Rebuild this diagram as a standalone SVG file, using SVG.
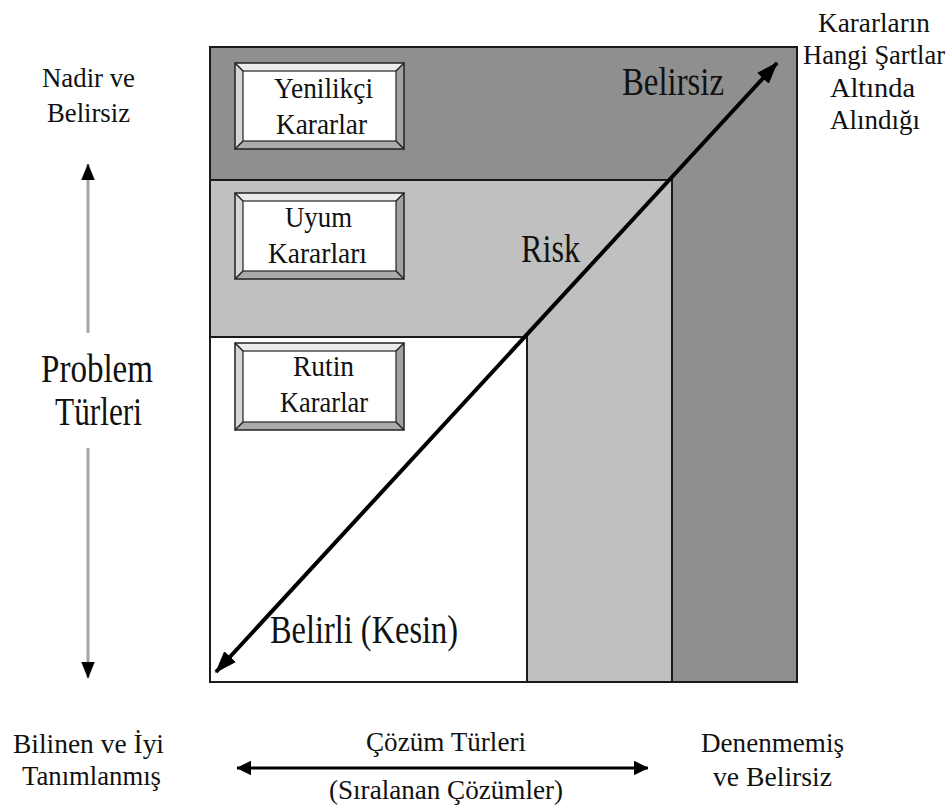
<svg xmlns="http://www.w3.org/2000/svg" width="952" height="812" viewBox="0 0 952 812">
<style>
text{font-family:"Liberation Serif","Times New Roman",serif;fill:#111}
.s{font-size:28px}
.b{font-size:30px}
.L{font-size:40px}
.edge{fill:none;stroke:#1a1a1a;stroke-width:2}
.face-t{fill:#ececec}
.face-l{fill:#d6d6d6}
.face-r{fill:#a2a2a2}
.face-b{fill:#ababab}
.bev{stroke:#222;stroke-width:1.5}
.inner{fill:#fff;stroke:#222;stroke-width:1.2}
</style>
<defs>
<marker id="ah" markerWidth="5.5" markerHeight="4" refX="5.2" refY="2" orient="auto-start-reverse" markerUnits="strokeWidth"><path d="M0,0 L5.5,2 L0,4 Z" fill="#000"/></marker>
<marker id="ahb" markerWidth="5" markerHeight="5" refX="4.8" refY="2.5" orient="auto-start-reverse" markerUnits="strokeWidth"><path d="M0,0 L5,2.5 L0,5 Z" fill="#000"/></marker>
<marker id="ahv" markerWidth="5.5" markerHeight="4.5" refX="5.3" refY="2.25" orient="auto-start-reverse" markerUnits="strokeWidth"><path d="M0,0 L5.5,2.25 L0,4.5 Z" fill="#000"/></marker>
</defs>
<rect width="952" height="812" fill="#fff"/>
<g id="regions">
<g id="region-belirsiz"><rect x="210" y="47" width="587" height="635" fill="#8f8f8f"/></g>
<g id="region-risk"><rect x="210" y="180" width="462" height="502" fill="#c0c0c0"/></g>
<g id="region-belirli"><rect x="210" y="337" width="317" height="345" fill="#fff"/></g>
<path class="edge" d="M210,180 H672 V682 M210,337 H527 V682"/>
<rect class="edge" x="210" y="47" width="587" height="635"/>
</g>
<g id="node-yenilikci">
<rect x="235" y="63" width="169" height="86" fill="#999"/>
<polygon class="face-t" points="235,63 404,63 396,71 243,71"/>
<polygon class="face-l" points="235,63 243,71 243,141 235,149"/>
<polygon class="face-r" points="404,63 404,149 396,141 396,71"/>
<polygon class="face-b" points="235,149 404,149 396,141 243,141"/>
<path class="bev" d="M235,63 L243,71 M404,63 L396,71 M235,149 L243,141 M404,149 L396,141"/>
<rect x="235" y="63" width="169" height="86" fill="none" stroke="#222" stroke-width="1.5"/>
<rect class="inner" x="243" y="71" width="153" height="70"/>
<text class="b" x="274" y="98" textLength="99" lengthAdjust="spacingAndGlyphs">Yenilikçi</text>
<text class="b" x="276" y="134" textLength="91" lengthAdjust="spacingAndGlyphs">Kararlar</text>
</g>
<g id="node-uyum">
<rect x="235" y="193" width="169" height="86" fill="#999"/>
<polygon class="face-t" points="235,193 404,193 396,201 243,201"/>
<polygon class="face-l" points="235,193 243,201 243,271 235,279"/>
<polygon class="face-r" points="404,193 404,279 396,271 396,201"/>
<polygon class="face-b" points="235,279 404,279 396,271 243,271"/>
<path class="bev" d="M235,193 L243,201 M404,193 L396,201 M235,279 L243,271 M404,279 L396,271"/>
<rect x="235" y="193" width="169" height="86" fill="none" stroke="#222" stroke-width="1.5"/>
<rect class="inner" x="243" y="201" width="153" height="70"/>
<text class="b" x="285" y="227" textLength="67" lengthAdjust="spacingAndGlyphs">Uyum</text>
<text class="b" x="268" y="263" textLength="99" lengthAdjust="spacingAndGlyphs">Kararları</text>
</g>
<g id="node-rutin">
<rect x="235" y="343" width="169" height="87" fill="#999"/>
<polygon class="face-t" points="235,343 404,343 396,351 243,351"/>
<polygon class="face-l" points="235,343 243,351 243,422 235,430"/>
<polygon class="face-r" points="404,343 404,430 396,422 396,351"/>
<polygon class="face-b" points="235,430 404,430 396,422 243,422"/>
<path class="bev" d="M235,343 L243,351 M404,343 L396,351 M235,430 L243,422 M404,430 L396,422"/>
<rect x="235" y="343" width="169" height="87" fill="none" stroke="#222" stroke-width="1.5"/>
<rect class="inner" x="243" y="351" width="153" height="71"/>
<text class="b" x="293" y="376" textLength="61" lengthAdjust="spacingAndGlyphs">Rutin</text>
<text class="b" x="280" y="412" textLength="88" lengthAdjust="spacingAndGlyphs">Kararlar</text>
</g>
<g id="connectors">
<line id="diag" x1="216" y1="672" x2="777" y2="63" stroke="#000" stroke-width="4" marker-start="url(#ah)" marker-end="url(#ah)"/>
<line id="vert-up" x1="88" y1="333" x2="88" y2="164" stroke="#a6a6a6" stroke-width="3" marker-end="url(#ahv)"/>
<line id="vert-down" x1="88" y1="448" x2="88" y2="678" stroke="#a6a6a6" stroke-width="3" marker-end="url(#ahv)"/>
<line id="horiz" x1="237" y1="768" x2="648" y2="768" stroke="#000" stroke-width="3" marker-start="url(#ahb)" marker-end="url(#ahb)"/>
</g>
<g id="labels">
<text class="L" x="622" y="95" textLength="102" lengthAdjust="spacingAndGlyphs">Belirsiz</text>
<text class="L" x="521" y="262" textLength="59" lengthAdjust="spacingAndGlyphs">Risk</text>
<text class="L" x="270" y="643" textLength="188" lengthAdjust="spacingAndGlyphs">Belirli (Kesin)</text>
<text class="s" x="42" y="87" textLength="93" lengthAdjust="spacingAndGlyphs">Nadir ve</text>
<text class="s" x="47" y="122" textLength="83" lengthAdjust="spacingAndGlyphs">Belirsiz</text>
<text class="L" x="41" y="382" textLength="112" lengthAdjust="spacingAndGlyphs">Problem</text>
<text class="L" x="55" y="425" textLength="87" lengthAdjust="spacingAndGlyphs">Türleri</text>
<text class="s" x="818" y="32" textLength="112" lengthAdjust="spacingAndGlyphs">Kararların</text>
<text class="s" x="803" y="64" textLength="142" lengthAdjust="spacingAndGlyphs">Hangi Şartlar</text>
<text class="s" x="830" y="97" textLength="85" lengthAdjust="spacingAndGlyphs">Altında</text>
<text class="s" x="830" y="129" textLength="90" lengthAdjust="spacingAndGlyphs">Alındığı</text>
<text class="s" x="13" y="753" textLength="151" lengthAdjust="spacingAndGlyphs">Bilinen ve İyi</text>
<text class="s" x="22" y="785" textLength="139" lengthAdjust="spacingAndGlyphs">Tanımlanmış</text>
<text class="s" x="366" y="751" textLength="160" lengthAdjust="spacingAndGlyphs">Çözüm Türleri</text>
<text class="s" x="329" y="799" textLength="234" lengthAdjust="spacingAndGlyphs">(Sıralanan Çözümler)</text>
<text class="s" x="701" y="752" textLength="143" lengthAdjust="spacingAndGlyphs">Denenmemiş</text>
<text class="s" x="713" y="786" textLength="119" lengthAdjust="spacingAndGlyphs">ve Belirsiz</text>
</g>
</svg>
